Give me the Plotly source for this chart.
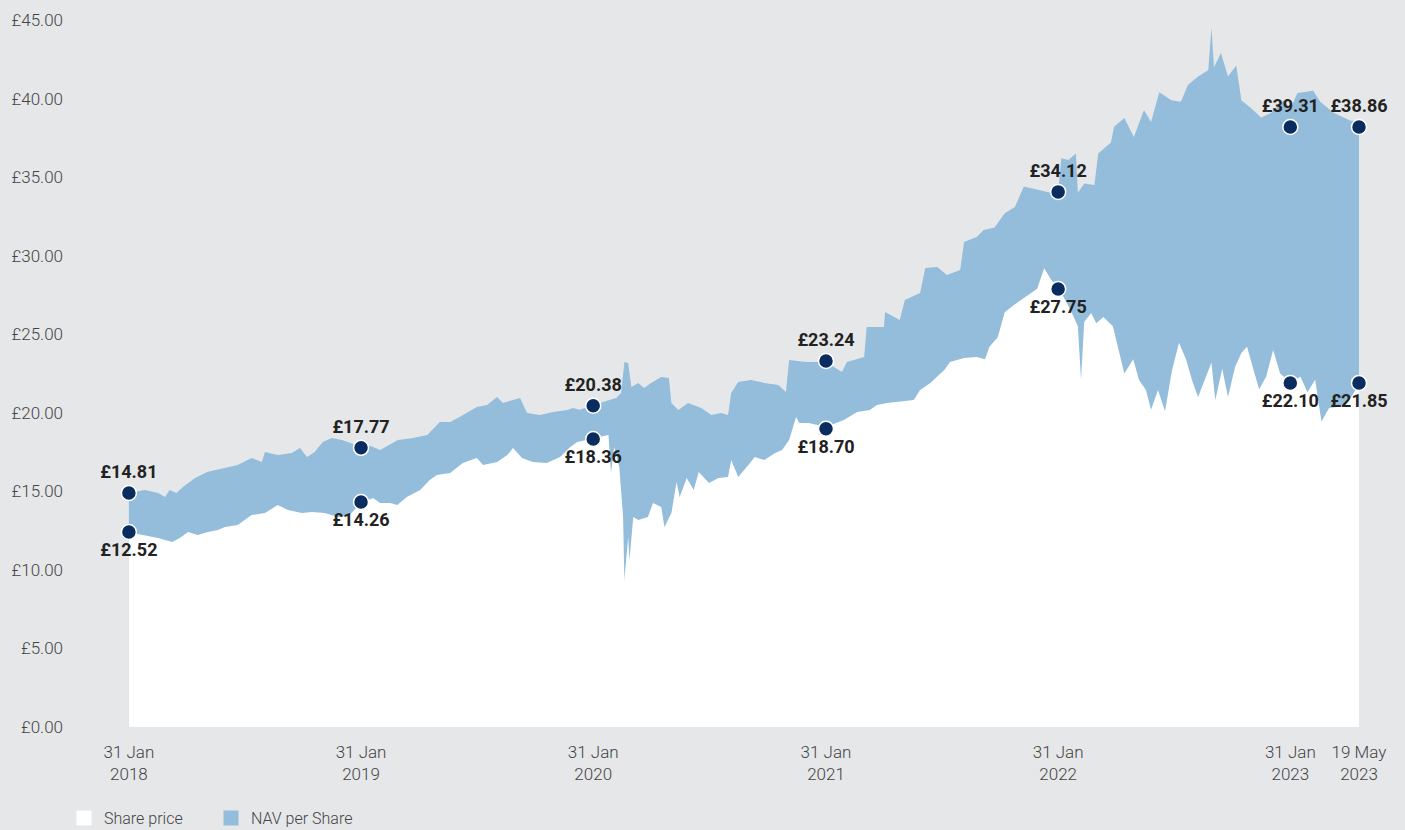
import plotly.graph_objects as go

# ---------------- data ----------------
nav_dates = [
    "2018-01-31", "2018-02-25", "2018-03-18", "2018-03-29", "2018-04-05", "2018-04-16", "2018-04-26",
    "2018-05-15", "2018-06-03", "2018-07-01", "2018-07-21", "2018-08-12", "2018-08-28", "2018-09-02",
    "2018-09-22", "2018-10-14", "2018-10-27", "2018-11-07", "2018-11-19", "2018-12-02", "2018-12-16",
    "2019-01-01", "2019-01-13", "2019-01-31", "2019-02-14", "2019-03-02", "2019-03-30", "2019-04-23",
    "2019-05-15", "2019-06-04", "2019-06-20", "2019-07-05", "2019-08-01", "2019-08-17", "2019-09-02",
    "2019-09-11", "2019-09-27", "2019-10-08", "2019-10-19", "2019-11-08", "2019-11-29", "2019-12-21",
    "2019-12-30", "2020-01-10", "2020-01-31", "2020-02-17", "2020-03-07", "2020-03-15", "2020-03-20",
    "2020-03-26", "2020-03-31", "2020-04-11", "2020-04-20", "2020-05-01", "2020-05-17", "2020-05-29",
    "2020-06-02", "2020-06-13", "2020-06-28", "2020-07-19", "2020-08-04", "2020-08-19", "2020-08-30",
    "2020-09-04", "2020-09-15", "2020-10-05", "2020-10-26", "2020-11-17", "2020-11-29", "2020-12-04",
    "2020-12-31", "2021-01-31", "2021-02-25", "2021-03-05", "2021-04-01", "2021-04-05", "2021-05-02",
    "2021-05-04", "2021-05-27", "2021-06-04", "2021-06-28", "2021-07-06", "2021-07-25", "2021-08-09",
    "2021-08-30", "2021-09-05", "2021-09-25", "2021-10-06", "2021-10-23", "2021-11-08", "2021-11-24",
    "2021-12-08", "2022-01-01", "2022-01-21", "2022-01-31", "2022-02-05", "2022-02-16", "2022-02-28",
    "2022-03-03", "2022-03-13", "2022-03-29", "2022-04-04", "2022-04-24", "2022-04-29", "2022-05-15",
    "2022-05-30", "2022-06-15", "2022-06-26", "2022-07-09", "2022-07-28", "2022-08-12", "2022-08-23",
    "2022-09-08", "2022-09-24", "2022-09-29", "2022-10-03", "2022-10-14", "2022-10-25", "2022-11-07",
    "2022-11-15", "2022-11-30", "2022-12-16", "2023-01-01", "2023-01-21", "2023-01-31", "2023-02-11",
    "2023-03-08", "2023-03-19", "2023-04-09", "2023-05-05", "2023-05-19",
]
nav_values = [
    14.90, 15.08, 14.90, 14.64, 15.08, 14.90, 15.28,
    15.85, 16.23, 16.49, 16.68, 17.12, 16.87, 17.50,
    17.31, 17.44, 17.76, 17.19, 17.50, 18.14, 18.40,
    18.27, 18.10, 17.84, 17.90, 17.63, 18.27, 18.40,
    18.59, 19.41, 19.41, 19.73, 20.37, 20.50, 21.00,
    20.62, 20.81, 20.94, 19.99, 19.86, 20.05, 20.18,
    20.30, 20.20, 20.50, 20.69, 20.94, 21.26, 23.23,
    23.17, 21.64, 21.90, 21.58, 21.90, 22.28, 22.21,
    20.62, 20.18, 20.62, 20.30, 19.86, 19.99, 19.86,
    21.26, 21.96, 22.09, 21.90, 21.77, 21.32, 23.36,
    23.23, 23.23, 22.60, 23.23, 23.55, 25.46, 25.46,
    26.41, 25.90, 27.18, 27.62, 29.22, 29.28, 28.77,
    29.09, 30.87, 31.19, 31.63, 31.80, 32.70, 33.10,
    34.40, 34.18, 33.99, 34.10, 36.20, 36.09, 36.50,
    34.00, 34.60, 34.50, 36.50, 37.20, 38.20, 38.76,
    37.55, 39.27, 38.50, 40.40, 39.90, 39.80, 40.86,
    41.40, 41.80, 44.50, 42.00, 42.90, 41.40, 42.10,
    39.90, 39.40, 38.80, 39.10, 39.90, 39.30, 40.35,
    40.50, 39.80, 39.10, 38.60, 38.50,
]

price_dates = [
    "2018-01-31", "2018-02-25", "2018-03-18", "2018-04-09", "2018-04-21", "2018-05-04", "2018-05-19",
    "2018-06-04", "2018-06-20", "2018-07-01", "2018-07-21", "2018-08-12", "2018-09-02", "2018-09-22",
    "2018-10-08", "2018-10-30", "2018-11-15", "2018-12-05", "2018-12-26", "2019-01-13", "2019-01-31",
    "2019-02-19", "2019-03-02", "2019-03-18", "2019-03-29", "2019-04-13", "2019-05-04", "2019-05-19",
    "2019-05-30", "2019-06-20", "2019-07-10", "2019-08-01", "2019-08-11", "2019-09-02", "2019-09-18",
    "2019-09-27", "2019-10-11", "2019-10-28", "2019-11-19", "2019-12-10", "2019-12-26", "2020-01-06",
    "2020-01-31", "2020-02-24", "2020-02-28", "2020-03-04", "2020-03-12", "2020-03-18", "2020-03-20",
    "2020-03-26", "2020-03-28", "2020-04-03", "2020-04-11", "2020-04-26", "2020-05-04", "2020-05-17",
    "2020-05-22", "2020-06-02", "2020-06-10", "2020-06-15", "2020-06-26", "2020-07-07", "2020-07-15",
    "2020-07-31", "2020-08-15", "2020-08-30", "2020-09-04", "2020-09-15", "2020-10-01", "2020-10-11",
    "2020-10-26", "2020-11-12", "2020-11-23", "2020-12-04", "2020-12-15", "2020-12-20", "2021-01-04",
    "2021-01-31", "2021-02-28", "2021-03-21", "2021-04-10", "2021-04-21", "2021-05-07", "2021-05-27",
    "2021-06-18", "2021-06-28", "2021-07-14", "2021-08-05", "2021-08-14", "2021-09-05", "2021-09-25",
    "2021-10-08", "2021-10-15", "2021-10-28", "2021-11-08", "2021-11-24", "2021-12-11", "2021-12-29",
    "2022-01-09", "2022-01-21", "2022-01-31", "2022-02-09", "2022-02-20", "2022-03-03", "2022-03-08",
    "2022-03-13", "2022-03-24", "2022-04-01", "2022-04-12", "2022-04-27", "2022-05-07", "2022-05-15",
    "2022-05-29", "2022-06-07", "2022-06-18", "2022-06-26", "2022-07-07", "2022-07-18", "2022-07-29",
    "2022-08-09", "2022-08-20", "2022-08-30", "2022-09-08", "2022-09-17", "2022-09-29", "2022-10-05",
    "2022-10-16", "2022-10-25", "2022-11-05", "2022-11-15", "2022-11-24", "2022-12-03", "2022-12-13",
    "2022-12-24", "2023-01-04", "2023-01-15", "2023-01-31", "2023-02-16", "2023-02-27", "2023-03-11",
    "2023-03-21", "2023-04-02", "2023-04-20", "2023-05-05", "2023-05-19",
]
price_values = [
    12.40, 12.22, 12.03, 11.78, 12.03, 12.41, 12.22,
    12.41, 12.54, 12.73, 12.86, 13.49, 13.62, 14.13,
    13.81, 13.62, 13.68, 13.62, 13.37, 13.50, 14.26,
    14.58, 14.26, 14.26, 14.13, 14.64, 15.08, 15.72,
    16.04, 16.17, 16.80, 17.12, 16.68, 16.87, 17.31,
    17.76, 17.12, 16.87, 16.80, 17.19, 17.82, 18.14,
    18.39, 18.59, 16.17, 17.82, 16.55, 13.37, 9.36,
    12.09, 10.63, 13.37, 13.18, 13.37, 14.26, 14.00,
    12.73, 13.62, 15.59, 14.64, 15.85, 15.08, 16.23,
    15.53, 15.85, 15.91, 16.99, 15.91, 16.68, 17.19,
    16.99, 17.44, 17.63, 18.27, 19.73, 19.35, 19.35,
    19.10, 19.54, 20.05, 20.18, 20.50, 20.62, 20.69,
    20.81, 21.45, 21.90, 22.72, 23.23, 23.49, 23.55,
    23.40, 24.20, 24.80, 26.40, 26.90, 27.40, 27.90,
    29.20, 28.40, 28.00, 27.30, 26.50, 25.50, 22.10,
    25.80, 26.35, 25.70, 26.10, 25.50, 23.80, 22.50,
    23.40, 22.10, 21.45, 20.20, 21.45, 20.10, 22.70,
    24.45, 23.40, 22.00, 21.00, 21.90, 23.20, 20.80,
    22.80, 21.00, 22.90, 23.80, 24.20, 22.90, 21.50,
    22.30, 24.00, 22.50, 21.95, 22.30, 21.30, 22.10,
    19.45, 20.30, 20.40, 20.90, 21.80,
]

# highlighted points: dates, marker heights as drawn, and label values
point_dates = ["2018-01-31", "2019-01-31", "2020-01-31", "2021-01-31",
               "2022-01-31", "2023-01-31", "2023-05-19"]
nav_marker_y = [14.89, 17.77, 20.45, 23.30, 34.06, 38.19, 38.19]
nav_labels = [14.81, 17.77, 20.38, 23.24, 34.12, 39.31, 38.86]
price_marker_y = [12.41, 14.32, 18.33, 18.99, 27.88, 21.90, 21.90]
price_labels = [12.52, 14.26, 18.36, 18.70, 27.75, 22.10, 21.85]

tick_dates = point_dates
tick_text = ["31 Jan<br>2018", "31 Jan<br>2019", "31 Jan<br>2020", "31 Jan<br>2021",
             "31 Jan<br>2022", "31 Jan<br>2023", "19 May<br>2023"]
y_ticks = [0, 5, 10, 15, 20, 25, 30, 35, 40, 45]

# ---------------- styles ----------------
BG = "#e6e7e9"
BLUE = "#93bddb"
NAVY = "#0b2c5f"
TXT = "#444444"

fig = go.Figure()

fig.add_trace(go.Scatter(
    x=nav_dates, y=nav_values, mode="lines", line=dict(width=0, color=BLUE),
    fill="tozeroy", fillcolor=BLUE, showlegend=False, hoverinfo="skip"))
fig.add_trace(go.Scatter(
    x=price_dates, y=price_values, mode="lines", line=dict(width=0, color="white"),
    fill="tozeroy", fillcolor="white", showlegend=False, hoverinfo="skip"))

marker_style = dict(size=15, color=NAVY, line=dict(color="white", width=1.5))
label_font = dict(family="Roboto", size=18, color="#222222", weight="bold")

fig.add_trace(go.Scatter(
    x=point_dates, y=nav_marker_y, mode="markers+text", marker=marker_style,
    text=[f"£{v:.2f}" for v in nav_labels], textposition="top center",
    textfont=label_font, showlegend=False, cliponaxis=False, hoverinfo="skip"))
fig.add_trace(go.Scatter(
    x=point_dates, y=price_marker_y, mode="markers+text", marker=marker_style,
    text=[f"£{v:.2f}" for v in price_labels], textposition="bottom center",
    textfont=label_font, showlegend=False, cliponaxis=False, hoverinfo="skip"))

# legend entries
fig.add_trace(go.Scatter(x=[None], y=[None], mode="markers", name="Share price",
                         marker=dict(symbol="square", size=15, color="white", line=dict(width=0))))
fig.add_trace(go.Scatter(x=[None], y=[None], mode="markers", name="NAV per Share",
                         marker=dict(symbol="square", size=15, color=BLUE, line=dict(width=0))))

fig.update_layout(
    width=1405, height=830,
    margin=dict(l=64, r=25, t=20, b=103, autoexpand=False),
    paper_bgcolor=BG, plot_bgcolor=BG,
    font=dict(family="Roboto", size=17, color=TXT, weight=300),
    showlegend=True,
    legend=dict(orientation="h", x=0.0, xanchor="left", y=-0.153, yanchor="bottom",
                font=dict(family="Roboto", size=16, color=TXT, weight=300),
                bgcolor="rgba(0,0,0,0)", entrywidth=102, entrywidthmode="pixels",
                itemsizing="trace"),
    xaxis=dict(type="date", range=["2017-10-21", "2023-06-21"], showgrid=False,
               zeroline=False, showline=False, ticks="", tickvals=tick_dates,
               ticktext=tick_text, tickfont=dict(size=17, color=TXT),
               automargin=False, ticklabelstandoff=13),
    yaxis=dict(range=[0, 45], showgrid=False, zeroline=False, showline=False, ticks="",
               tickvals=y_ticks, ticktext=[f"£{v:.2f}" for v in y_ticks],
               tickfont=dict(size=17, color=TXT), automargin=False),
)

fig.write_html("out.html", config={"displayModeBar": False},
               post_script="document.body.style.margin='0';document.body.style.overflow='hidden';")
